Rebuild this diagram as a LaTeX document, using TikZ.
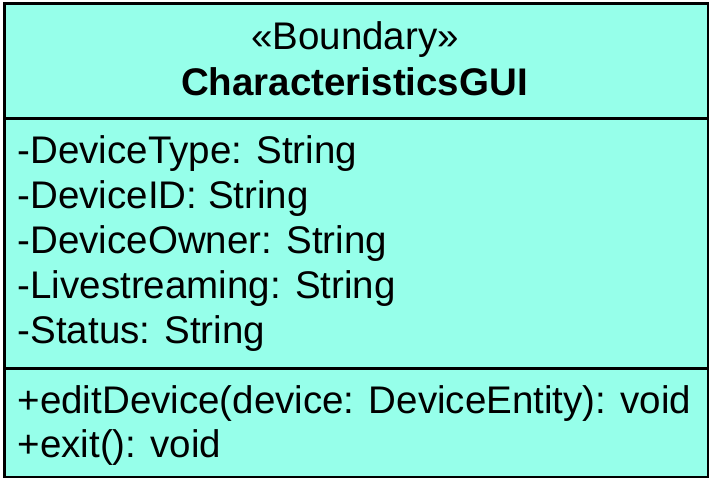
\documentclass[tikz,border=0pt]{standalone}
\usepackage{fontspec}
\setmainfont{Liberation Sans}
\definecolor{boxfill}{RGB}{150,255,234}
\begin{document}
\begin{tikzpicture}[x=1pt,y=1pt,
  umltext/.style={inner sep=0pt,anchor=base west,font=\fontsize{38.5}{46}\selectfont},
  umltitle/.style={inner sep=0pt,anchor=base,font=\fontsize{38.5}{46}\selectfont},
  sepline/.style={line width=2.7pt,black}]
\useasboundingbox (0,0) rectangle (709,481);
\node[draw=black,fill=boxfill,line width=2.7pt,minimum width=703.5pt,minimum height=473.3pt,inner sep=0pt,anchor=south west] (box) at (3,2.7) {};
\coordinate (s1l) at (3,362.7);
\coordinate (s1r) at (706.5,362.7);
\coordinate (s2l) at (3,112.7);
\coordinate (s2r) at (706.5,112.7);
\draw[sepline] (s1l) -- (s1r);
\draw[sepline] (s2l) -- (s2r);
\node[umltitle] (stereo) at (355,431) {«Boundary»};
\node[umltitle,font=\fontsize{38.5}{46}\selectfont\bfseries] (name) at (354.5,385.5) {CharacteristicsGUI};
\node[umltext] (a1) at (17.5,317) {-DeviceType: String};
\node[umltext] (a2) at (17.5,272) {-DeviceID: String};
\node[umltext] (a3) at (17.5,227) {-DeviceOwner: String};
\node[umltext] (a4) at (17.5,182) {-Livestreaming: String};
\node[umltext] (a5) at (17.5,137) {-Status: String};
\node[umltext] (m1) at (17.5,67.8) {+editDevice(device: DeviceEntity): void};
\node[umltext] (m2) at (17.5,23.8) {+exit(): void};
\end{tikzpicture}
\end{document}
